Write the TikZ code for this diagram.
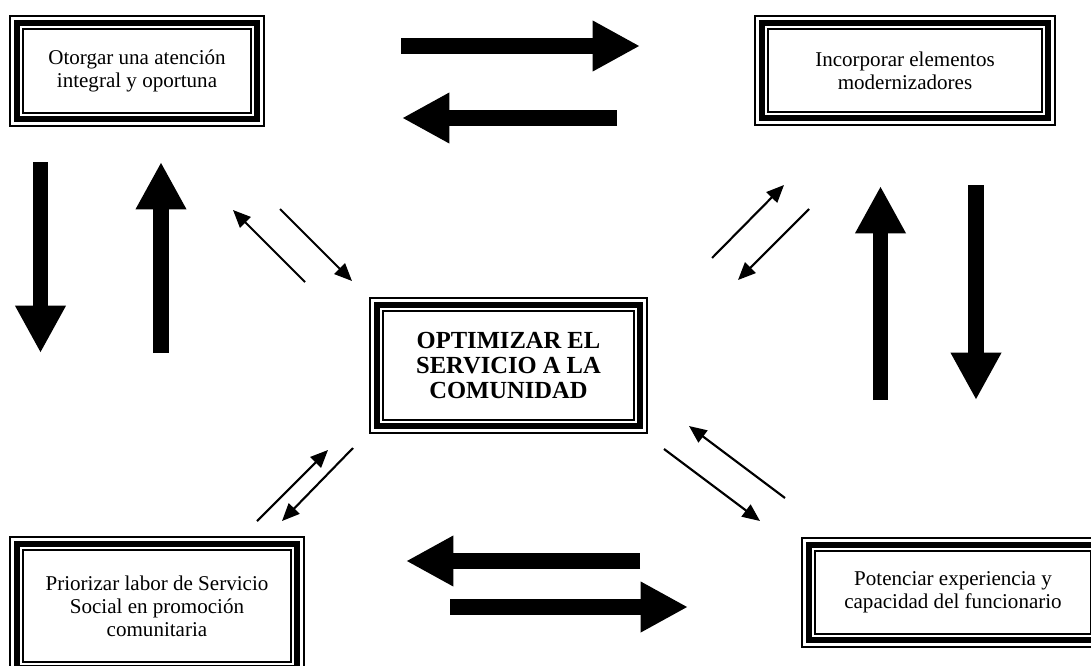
\documentclass[tikz,border=0pt]{standalone}
\usepackage{fontspec}
\setmainfont{Liberation Serif}
\usetikzlibrary{arrows.meta}
\tikzstyle{marco} = [rectangle, draw, line width=1.1pt, outer sep=0pt, inner sep=2pt, align=center, font=\fontsize{12}{13}\selectfont]
\tikzstyle{banda} = [line width=3.4pt]
\tikzstyle{filo} = [line width=1.1pt]
\tikzstyle{gruesa} = [line width=9pt, -{Triangle[length=27pt,width=27pt]}]
\tikzstyle{fina} = [line width=1.2pt, -{Triangle[length=10pt,width=8.5pt]}]

\begin{document}
\begin{tikzpicture}[x=0.57pt,y=-0.57pt]
				\clip (0,0) rectangle (1091,665);
				\node[marco, minimum width=130pt, minimum height=47.9pt] (otorgar) at (137,71) {Otorgar una atención\\integral y oportuna};
				\node[marco, minimum width=156.2pt, minimum height=47.3pt] (incorporar) at (905,70.5) {Incorporar elementos\\modernizadores};
				\node[marco, minimum width=143pt, minimum height=62.1pt, font=\fontsize{14}{14.5}\selectfont\bfseries] (optimizar) at (508.5,365.5) {OPTIMIZAR EL\\SERVICIO A LA\\COMUNIDAD};
				\node[marco, minimum width=152.8pt, minimum height=63.8pt] (priorizar) at (157,606) {Priorizar labor de Servicio\\Social en promoción\\comunitaria};
				\node[marco, minimum width=157.3pt, minimum height=47.3pt] (potenciar) at (953,592.5) {Potenciar experiencia y\\capacidad del funcionario};
				\foreach \n in {otorgar,incorporar,optimizar,priorizar,potenciar} {
					\draw[banda] ([shift={(-3.4pt,3.4pt)}]\n.north west) rectangle ([shift={(3.4pt,-3.4pt)}]\n.south east);
					\draw[filo] ([shift={(-7.4pt,7.4pt)}]\n.north west) rectangle ([shift={(7.4pt,-7.4pt)}]\n.south east);
				}
				% thick arrows
				\coordinate (ai) at (401,46);   \coordinate (af) at (640,46);
				\coordinate (bi) at (617,118);  \coordinate (bf) at (402,118);
				\coordinate (ci) at (40.5,162); \coordinate (cf) at (40.5,353);
				\coordinate (di) at (161,353);  \coordinate (df) at (161,162);
				\coordinate (ei) at (880.5,400); \coordinate (ef) at (880.5,186);
				\coordinate (fi) at (976,185);  \coordinate (ff) at (976,400);
				\coordinate (gi) at (640,561);  \coordinate (gf) at (406,561);
				\coordinate (hi) at (450,607);  \coordinate (hf) at (688,607);
				\draw[gruesa] (ai) -- (af);
				\draw[gruesa] (bi) -- (bf);
				\draw[gruesa] (ci) -- (cf);
				\draw[gruesa] (di) -- (df);
				\draw[gruesa] (ei) -- (ef);
				\draw[gruesa] (fi) -- (ff);
				\draw[gruesa] (gi) -- (gf);
				\draw[gruesa] (hi) -- (hf);
				% thin arrows
				\coordinate (p1) at (305,282); \coordinate (q1) at (233,210);
				\coordinate (p2) at (280,209); \coordinate (q2) at (352,281);
				\coordinate (p3) at (712,258); \coordinate (q3) at (784,185);
				\coordinate (p4) at (809,209); \coordinate (q4) at (738,280);
				\coordinate (p5) at (257,521); \coordinate (q5) at (328,450);
				\coordinate (p6) at (353,448); \coordinate (q6) at (282,521);
				\coordinate (p7) at (785,498); \coordinate (q7) at (689,426);
				\coordinate (p8) at (664,449); \coordinate (q8) at (760,521);
				\draw[fina] (p1) -- (q1);
				\draw[fina] (p2) -- (q2);
				\draw[fina] (p3) -- (q3);
				\draw[fina] (p4) -- (q4);
				\draw[fina] (p5) -- (q5);
				\draw[fina] (p6) -- (q6);
				\draw[fina] (p7) -- (q7);
				\draw[fina] (p8) -- (q8);
			\end{tikzpicture}
\end{document}
